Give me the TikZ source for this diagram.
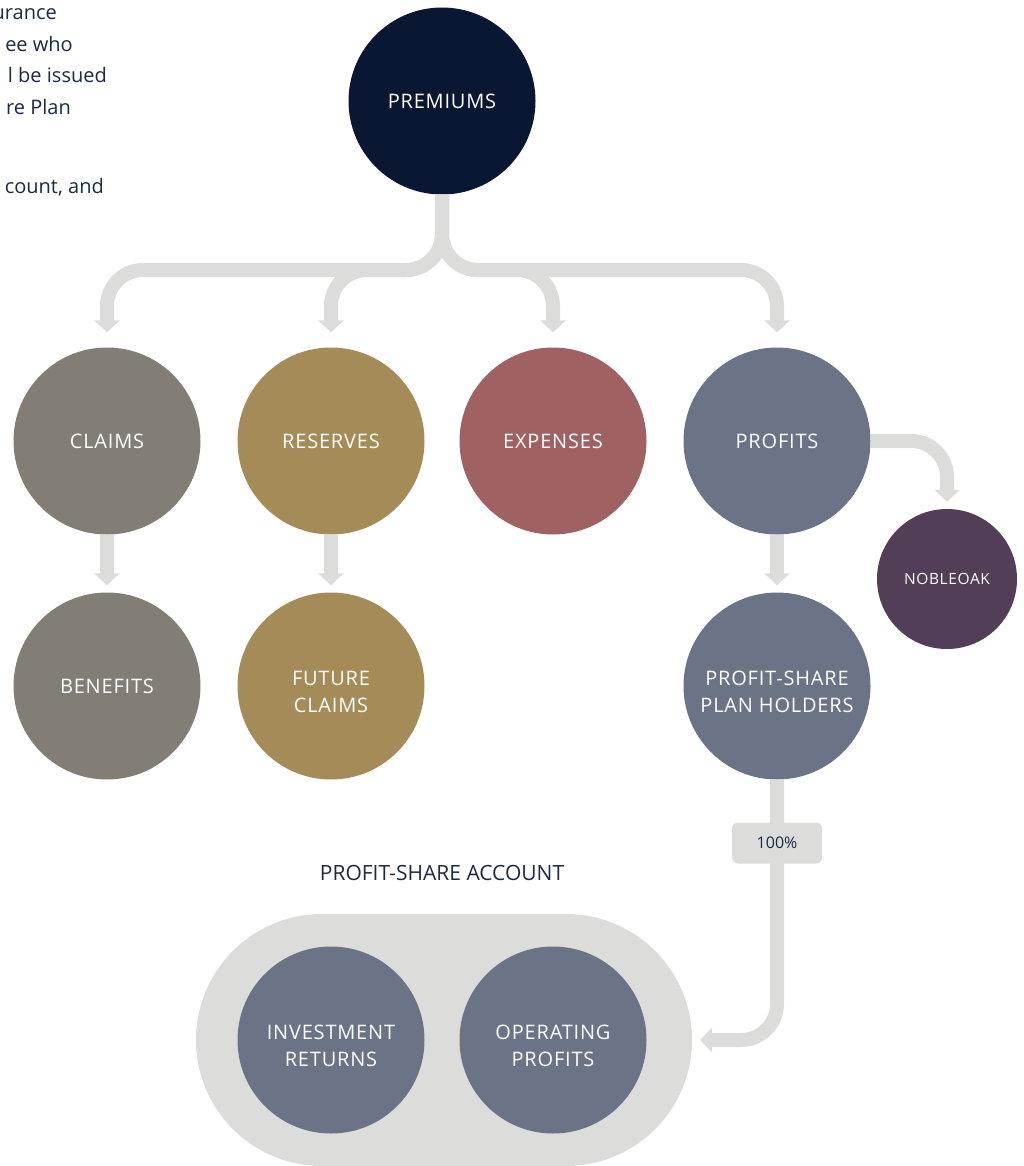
\documentclass[tikz,border=0pt]{standalone}
\usepackage{fontspec}
\setmainfont{Open Sans}
\newfontfamily\labelfont{Open Sans}[LetterSpace=4.0]
\usetikzlibrary{arrows.meta}

\definecolor{ink}{HTML}{1D2A44}
\definecolor{navy}{HTML}{0A1733}
\definecolor{stone}{HTML}{827E76}
\definecolor{gold}{HTML}{A58B57}
\definecolor{rosewood}{HTML}{A06163}
\definecolor{slate}{HTML}{6B7387}
\definecolor{plum}{HTML}{523F57}
\definecolor{flowgray}{HTML}{DCDDDA}

% pushes a two line label a little lower in its circle
\newcommand{\topstrut}{\rule{0pt}{25.3pt}}

\tikzset{
	bubble/.style={circle, minimum size=187pt, inner sep=0pt, text=white, align=center,
		font=\labelfont\fontsize{20}{27}\selectfont},
	flow/.style={draw=flowgray, line width=14pt, rounded corners=36pt,
		-{Triangle[width=25pt,length=12pt]}},
	note/.style={anchor=base east, inner sep=0pt, text=ink, font=\fontsize{20}{31}\selectfont},
}

\begin{document}
\begin{tikzpicture}[x=1pt, y=-1pt]
		\useasboundingbox (0,0) rectangle (1024,1166);

		% cut-off text at the top left
		\node at (57,  20) [note] (line_a) {urance};
		\node at (73,  52) [note] (line_b) {ee who};
		\node at (107, 83) [note] (line_c) {l be issued};
		\node at (71, 115) [note] (line_d) {re Plan};
		\node at (104,194) [note] (line_e) {count, and};

		% profit-share account
		\node at (444,1040) [rectangle, fill=flowgray, minimum width=496pt, minimum height=252pt,
			rounded corners=126pt] (account) {};
		\node at (442, 873) [text=ink, font=\fontsize{21}{25}\selectfont] (account_title) {PROFIT-SHARE ACCOUNT};

		\node at (442, 101) [bubble, fill=navy]     (premiums)     {PREMIUMS};
		\node at (107, 441) [bubble, fill=stone]    (claims)       {CLAIMS};
		\node at (331, 441) [bubble, fill=gold]     (reserves)     {RESERVES};
		\node at (553, 441) [bubble, fill=rosewood] (expenses)     {EXPENSES};
		\node at (777, 441) [bubble, fill=slate]    (profits)      {PROFITS};
		\node at (107, 686) [bubble, fill=stone]    (benefits)     {BENEFITS};
		\node at (331, 686) [bubble, fill=gold]     (future)       {\topstrut FUTURE\\CLAIMS};
		\node at (777, 686) [bubble, fill=slate]    (plan_holders) {\topstrut PROFIT-SHARE\\PLAN HOLDERS};
		\node at (947, 579) [bubble, fill=plum, minimum size=140pt,
			font=\labelfont\fontsize{15.5}{20}\selectfont] (nobleoak) {NOBLEOAK};
		\node at (331,1040) [bubble, fill=slate]    (investment)   {\topstrut INVESTMENT\\RETURNS};
		\node at (553,1040) [bubble, fill=slate]    (operating)    {\topstrut OPERATING\\PROFITS};

		\coordinate (split) at (442,270);

		\draw[flow, shorten >=15pt] (premiums.south) -- (split) -| (claims.north);
		\draw[flow, shorten >=15pt] (premiums.south) -- (split) -| (reserves.north);
		\draw[flow, shorten >=15pt] (premiums.south) -- (split) -| (expenses.north);
		\draw[flow, shorten >=15pt] (premiums.south) -- (split) -| (profits.north);
		\draw[flow, shorten >=7pt]  (claims.south)   -- (benefits.north);
		\draw[flow, shorten >=7pt]  (reserves.south) -- (future.north);
		\draw[flow, shorten >=7pt]  (profits.south)  -- (plan_holders.north);
		\draw[flow, shorten >=7pt]  (profits.east)   -| (nobleoak.north);
		\draw[flow, shorten >=8pt]  (plan_holders.south) |- (account.east);

		\node at (777, 843) [rectangle, fill=flowgray, rounded corners=6pt, minimum width=90pt,
			minimum height=41pt, text=ink, font=\fontsize{16}{20}\selectfont] (share) {100\%};
	\end{tikzpicture}
\end{document}
